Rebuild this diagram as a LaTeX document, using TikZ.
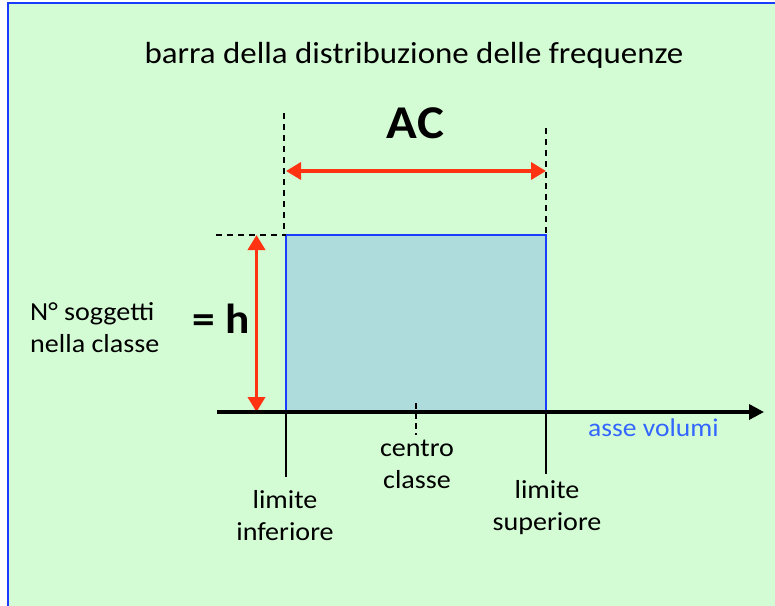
\documentclass[tikz,border=0pt]{standalone}
\usepackage{fontspec}
\setmainfont{Carlito}[FakeStretch=1.08]
\usetikzlibrary{arrows.meta}
\definecolor{bgg}{HTML}{D4FCD4}
\definecolor{frameb}{HTML}{1A3CFF}
\definecolor{barfill}{HTML}{AEDCDC}
\definecolor{redar}{HTML}{FF3311}
\definecolor{axisblue}{HTML}{3366FF}
\tikzset{
  lbl/.style={font=\fontsize{26}{31.5}\selectfont, align=center, inner sep=0pt, anchor=base},
  guide/.style={black, line width=1.4pt, dash pattern=on 6pt off 5pt},
  redarrow/.style={redar, line width=3.6pt, {Triangle[length=15pt,width=17pt]}-{Triangle[length=15pt,width=17pt]}},
  tickline/.style={black, line width=1.3pt}
}
\begin{document}
\begin{tikzpicture}[x=1pt,y=-1pt]
\useasboundingbox (0,0) rectangle (775,605);
\begin{scope}
\clip (0,0) rectangle (775,605);
\draw[frameb, fill=bgg, line width=2pt] (8,3) rectangle (790,620);
\end{scope}
\node[lbl, font=\fontsize{30.5}{34}\selectfont] (title) at (414,63) {barra della distribuzione delle frequenze};
\node[lbl, font=\bfseries\fontsize{47}{50}\selectfont] (ac) at (415.5,138) {AC};
% bar
\draw[frameb, fill=barfill, line width=1.6pt] (286,235) rectangle (546,412);
\coordinate (bl) at (286,412);
\coordinate (tl) at (286,235);
\coordinate (br) at (546,412);
\coordinate (tr) at (546,235);
% dashed guides
\coordinate (gl) at (284,113);
\coordinate (gr) at (546,128);
\coordinate (gh) at (216,235);
\draw[guide] (gl) -- (284,235);
\draw[guide] (gr) -- (tr);
\draw[guide] (gh) -- (tl);
% red arrows
\coordinate (acl) at (286,171);
\coordinate (acr) at (546,171);
\draw[redarrow] (acl) -- (acr);
\coordinate (ht) at (256.5,235);
\coordinate (hb) at (256.5,412);
\draw[redarrow] (ht) -- (hb);
% axis
\coordinate (ax0) at (217,412);
\coordinate (ax1) at (764,412);
\draw[black, line width=3.4pt, -{Triangle[length=15pt,width=15pt]}] (ax0) -- (ax1);
\node[lbl, font=\fontsize{25.5}{28}\selectfont, text=axisblue, anchor=base west] (asse) at (588,436) {asse volumi};
% ticks
\coordinate (tl2) at (286,477);
\coordinate (tr2) at (546,474);
\draw[tickline] (bl) -- (tl2);
\draw[tickline] (br) -- (tr2);
\coordinate (c0) at (416,403);
\coordinate (c1) at (416,435);
\draw[guide, dash pattern=on 6pt off 4pt] (c0) -- (c1);
% labels (anchor base = baseline of the last line)
\node[lbl] (centro) at (417,488) {centro\\classe};
\node[lbl] (linf) at (285,540) {limite\\inferiore};
\node[lbl] (lsup) at (547,530) {limite\\superiore};
\node[lbl, align=left, anchor=base west] (nsog) at (30,352) {N° soggetti\\nella classe};
\node[lbl, font=\bfseries\fontsize{42}{46}\selectfont] (h) at (221,333) {= h};
\end{tikzpicture}
\end{document}
